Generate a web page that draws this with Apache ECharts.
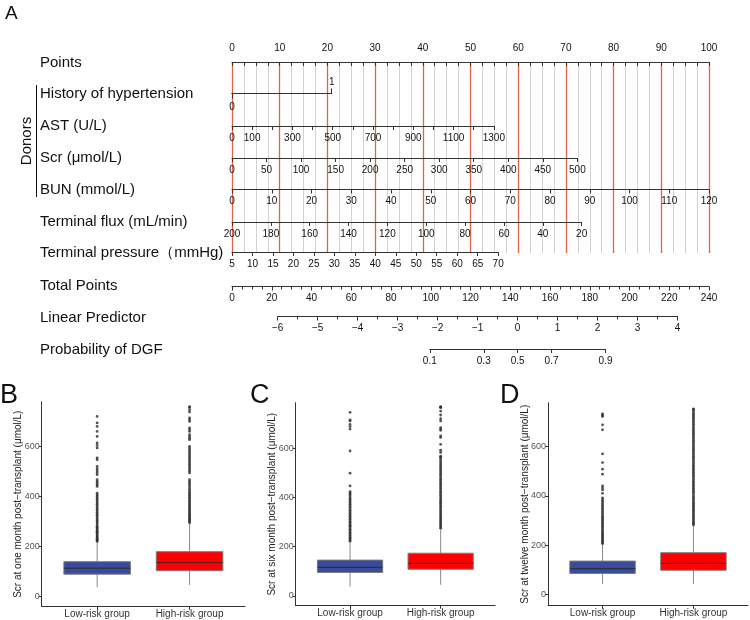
<!DOCTYPE html>
<html>
<head>
<meta charset="utf-8">
<title>DGF nomogram and Scr by risk group</title>
<script src="https://cdn.jsdelivr.net/npm/echarts@6/dist/echarts.min.js"></script>
<style>
  html, body { margin: 0; padding: 0; background: #fff; }
  #main { width: 750px; height: 620px; }
</style>
</head>
<body>
<div id="main"></div>
<script>
// ---------- panel A: nomogram ----------
const rowLabels = ['Points', 'History of hypertension', 'AST (U/L)', 'Scr (μmol/L)', 'BUN (mmol/L)',
  'Terminal flux (mL/min)', 'Terminal pressure（mmHg)', 'Total Points', 'Linear Predictor', 'Probability of DGF']
const hypertensionPoints = 20.9 // points for history = 1
const astRange = [0, 1300]
const astPoints = 54.9 // points at AST 1300
const astLabels = [0, 100, 300, 500, 700, 900, 1100, 1300]
const scrRange = [0, 500]
const scrPoints = 72.4
const bunRange = [0, 120]
const bunPoints = 100
const fluxRange = [20, 200] // drawn reversed: 200 scores 0
const fluxPoints = 73.3
const pressureRange = [5, 70]
const pressurePoints = 55.8
const totalRange = [0, 240]
const lpRange = [-6, 4]
const lpTotal = [23, 224.2] // total points at the two ends of the linear predictor
const probTicks = [0.1, 0.3, 0.5, 0.7, 0.9]

// ---------- panels B-D: Scr boxplots ----------
const groups = ['Low-risk group', 'High-risk group']
// [lower whisker, Q1, median, Q3, upper whisker]
const box1m = [[38, 90, 114, 140, 216], [47, 104, 136, 180, 292]]
const box6m = [[38, 95, 116, 145, 218], [45, 108, 132, 173, 268]]
const box12m = [[42, 85, 104, 135, 200], [42, 98, 126, 169, 278]]
const lowOut1m = [221, 225, 230, 234, 239, 243, 248, 253, 258, 262, 267, 272, 277, 281, 288, 295, 301, 307, 313, 320, 326, 332, 338, 345, 351, 357, 364, 370, 376, 383, 389, 395, 401, 407, 414, 441, 447, 454, 461, 468, 488, 496, 504, 512, 521, 548, 555, 595, 605, 615, 641, 661, 681, 695, 721]
const highOut1m = [296, 300, 305, 310, 315, 320, 325, 330, 336, 341, 347, 352, 358, 364, 370, 376, 382, 388, 394, 400, 406, 412, 418, 425, 432, 440, 447, 454, 461, 468, 495, 502, 509, 516, 523, 530, 537, 544, 551, 558, 565, 572, 579, 586, 594, 601, 628, 634, 641, 648, 661, 668, 675, 701, 708, 715, 739, 748, 757, 760]
const lowOut6m = [222, 227, 232, 237, 243, 248, 254, 259, 265, 270, 276, 282, 287, 293, 299, 305, 311, 317, 323, 329, 335, 341, 347, 353, 360, 366, 372, 379, 385, 392, 398, 405, 412, 417, 423, 446, 498, 588, 677, 687, 696, 710, 714, 745]
const highOut6m = [274, 279, 285, 290, 296, 302, 308, 314, 320, 326, 332, 338, 344, 350, 357, 363, 369, 376, 382, 388, 395, 401, 408, 414, 421, 427, 434, 440, 447, 453, 460, 467, 473, 480, 487, 494, 500, 507, 514, 521, 528, 535, 542, 549, 556, 563, 567, 582, 591, 615, 643, 649, 672, 677, 683, 710, 719, 734, 750, 764, 766, 768]
const lowOut12m = [205, 210, 215, 220, 226, 231, 237, 242, 248, 254, 259, 265, 271, 277, 283, 289, 295, 301, 307, 313, 319, 326, 332, 338, 345, 351, 358, 364, 371, 378, 385, 392, 410, 424, 432, 440, 488, 508, 535, 570, 668, 688, 722, 727, 733]
const highOut12m = [282, 287, 292, 298, 304, 310, 316, 322, 328, 334, 340, 346, 352, 358, 364, 370, 376, 383, 389, 395, 401, 408, 414, 420, 427, 433, 440, 446, 453, 459, 466, 472, 479, 485, 492, 498, 505, 511, 518, 524, 531, 537, 544, 550, 557, 563, 570, 576, 583, 589, 596, 602, 609, 615, 622, 628, 635, 641, 648, 654, 661, 667, 674, 680, 687, 693, 700, 706, 713, 719, 726, 732, 738, 745, 750, 753]
const yTitles = ['Scr at one month post−transplant (μmol/L)', 'Scr at six month post−transplant (μmol/L)', 'Scr at twelve month post−transplant (μmol/L)']
const scrTicks = [0, 200, 400, 600]

const FONT = 'Liberation Sans, Arial, sans-serif'
const LINE = '#333'
const NOMO_LEFT = 232
const NOMO_W = 477 // width of 100 points
const rowY = [62, 93.5, 126, 158, 189.5, 222, 252, 286.5, 316.5, 349]
const labelY = [63, 94, 126, 158, 190, 222, 253, 286, 318, 350]

function merge (a, b) {
  const out = Object.assign({}, a)
  Object.keys(b || {}).forEach(k => {
    const v = b[k]
    out[k] = (v && typeof v === 'object' && !Array.isArray(v) && a[k] && typeof a[k] === 'object') ? merge(a[k], v) : v
  })
  return out
}
const ptsW = p => p / 100 * NOMO_W
const logit = p => Math.log(p / (1 - p))

const grids = []
const xAxes = []
const yAxes = []
function addGrid (left, width, top, height) {
  grids.push({ left, width, top, height, containLabel: false, outerBoundsMode: 'none' })
  return grids.length - 1
}
function hiddenY (gi) {
  yAxes.push({ type: 'value', gridIndex: gi, show: false, min: 0, max: 1 })
}
const rowAxisBase = {
  type: 'value',
  position: 'bottom',
  z: 3,
  axisLine: { show: true, onZero: false, lineStyle: { color: LINE, width: 1 } },
  axisTick: { show: true, length: 4, lineStyle: { color: LINE } },
  axisLabel: { show: true, margin: 7, fontSize: 10, color: '#111', fontFamily: FONT, showMinLabel: true, showMaxLabel: true },
  splitLine: { show: false }
}
function addRow (rowIdx, pointsStart, pointsSpan, axisOpt) {
  const gi = addGrid(NOMO_LEFT + ptsW(pointsStart), ptsW(pointsSpan), rowY[rowIdx], 0)
  hiddenY(gi)
  xAxes.push(merge(rowAxisBase, merge({ gridIndex: gi }, axisOpt)))
}

// Points axis carries the vertical reference lines
const gPoints = addGrid(NOMO_LEFT, NOMO_W, rowY[0], 191)
hiddenY(gPoints)
xAxes.push(merge(rowAxisBase, {
  gridIndex: gPoints, position: 'top', z: 0, min: 0, max: 100, interval: 10,
  axisTick: { inside: true },
  axisLabel: { margin: 9 },
  minorTick: { show: true, splitNumber: 4, length: 4, lineStyle: { color: LINE } },
  splitLine: { show: true, lineStyle: { color: '#dc6448', width: 1.3 } },
  minorSplitLine: { show: true, lineStyle: { color: '#d2d2d2', width: 1 } }
}))

// history of hypertension: 1 above, 0 below
const gHyp = addGrid(NOMO_LEFT, ptsW(hypertensionPoints), rowY[1], 0)
hiddenY(gHyp)
xAxes.push(merge(rowAxisBase, {
  gridIndex: gHyp, position: 'top', min: 0, max: 1,
  axisTick: { customValues: [1], length: 5 },
  axisLabel: { customValues: [1], margin: 6 }
}))
xAxes.push(merge(rowAxisBase, {
  gridIndex: gHyp, position: 'bottom', min: 0, max: 1,
  axisTick: { customValues: [0], length: 5 },
  axisLabel: { customValues: [0], margin: 9 }
}))

addRow(2, 0, astPoints, {
  min: astRange[0], max: astRange[1], interval: 100,
  axisLabel: { formatter: v => astLabels.indexOf(v) >= 0 ? String(v) : '' }
})
addRow(3, 0, scrPoints, { min: scrRange[0], max: scrRange[1], interval: 50 })
addRow(4, 0, bunPoints, { min: bunRange[0], max: bunRange[1], interval: 10 })
addRow(5, 0, fluxPoints, { min: fluxRange[0], max: fluxRange[1], interval: 20, inverse: true })
addRow(6, 0, pressurePoints, { min: pressureRange[0], max: pressureRange[1], interval: 5 })
addRow(7, 0, 100, {
  min: totalRange[0], max: totalRange[1], interval: 20,
  minorTick: { show: true, splitNumber: 4, length: 3, lineStyle: { color: LINE } }
})
const tpToPts = t => t / totalRange[1] * 100
addRow(8, tpToPts(lpTotal[0]), tpToPts(lpTotal[1] - lpTotal[0]), {
  min: lpRange[0], max: lpRange[1], interval: 1,
  minorTick: { show: true, splitNumber: 2, length: 3, lineStyle: { color: LINE } },
  axisLabel: { formatter: v => v < 0 ? '−' + Math.abs(v) : String(v) }
})
// probability axis sits on the linear predictor scale
const lpPtsPerUnit = tpToPts(lpTotal[1] - lpTotal[0]) / (lpRange[1] - lpRange[0])
const lpToPts = v => tpToPts(lpTotal[0]) + (v - lpRange[0]) * lpPtsPerUnit
const probLp = probTicks.map(logit)
addRow(9, lpToPts(probLp[0]), lpToPts(probLp[probLp.length - 1]) - lpToPts(probLp[0]), {
  min: probLp[0], max: probLp[probLp.length - 1],
  axisTick: { customValues: probLp },
  axisLabel: { customValues: probLp, formatter: v => (1 / (1 + Math.exp(-v))).toFixed(1) }
})

// ---------- boxplot panels ----------
const panels = [
  { left: 41.7, top: 401.7, width: 203.3, height: 205, min: -40, max: 780, box: box1m, out: [lowOut1m, highOut1m] },
  { left: 295.7, top: 402.7, width: 199.3, height: 203, min: -40, max: 784, box: box6m, out: [lowOut6m, highOut6m] },
  { left: 548, top: 402.7, width: 200, height: 203, min: -46, max: 778, box: box12m, out: [lowOut12m, highOut12m] }
]
const boxColors = ['#3a4b9c', '#ff0000']
const BOX_W = 0.72
const series = []

function renderBox (params, api) {
  const x = api.value(0)
  const lo = api.value(1)
  const q1 = api.value(2)
  const med = api.value(3)
  const q3 = api.value(4)
  const hi = api.value(5)
  const tl = api.coord([x - BOX_W / 2, q3])
  const br = api.coord([x + BOX_W / 2, q1])
  const mL = api.coord([x - BOX_W / 2, med])
  const mR = api.coord([x + BOX_W / 2, med])
  const pHi = api.coord([x, hi])
  const pQ3 = api.coord([x, q3])
  const pQ1 = api.coord([x, q1])
  const pLo = api.coord([x, lo])
  const whisk = { stroke: '#8a8a8a', lineWidth: 1 }
  return {
    type: 'group',
    children: [
      { type: 'line', shape: { x1: pHi[0], y1: pHi[1], x2: pQ3[0], y2: pQ3[1] }, style: whisk },
      { type: 'line', shape: { x1: pQ1[0], y1: pQ1[1], x2: pLo[0], y2: pLo[1] }, style: whisk },
      { type: 'rect', shape: { x: tl[0], y: tl[1], width: br[0] - tl[0], height: br[1] - tl[1] }, style: { fill: boxColors[params.dataIndex], stroke: '#7a7a7a', lineWidth: 1 } },
      { type: 'line', shape: { x1: mL[0], y1: mL[1], x2: mR[0], y2: mR[1] }, style: { stroke: '#2a2a2a', lineWidth: 1 } }
    ]
  }
}

panels.forEach((p, k) => {
  const gi = addGrid(p.left, p.width, p.top, p.height)
  const xi = xAxes.length
  const yi = yAxes.length
  xAxes.push({
    type: 'value', gridIndex: gi, min: 0.4, max: 2.6, position: 'bottom',
    axisLine: { show: true, onZero: false, lineStyle: { color: LINE } },
    axisTick: { show: true, customValues: [1, 2], length: 3, lineStyle: { color: LINE } },
    axisLabel: { customValues: [1, 2], formatter: v => groups[Math.round(v) - 1], margin: 3, fontSize: 10, color: '#333', fontFamily: FONT },
    splitLine: { show: false }
  })
  yAxes.push({
    type: 'value', gridIndex: gi, min: p.min, max: p.max, position: 'left',
    axisLine: { show: true, onZero: false, lineStyle: { color: LINE } },
    axisTick: { show: true, customValues: scrTicks, length: 3, lineStyle: { color: LINE } },
    axisLabel: { customValues: scrTicks, margin: 2, fontSize: 9, color: '#555', fontFamily: FONT },
    splitLine: { show: false },
    name: yTitles[k],
    nameLocation: 'middle',
    nameGap: 18,
    nameMoveOverlap: false,
    nameTextStyle: { fontSize: 10, color: '#222', fontFamily: FONT }
  })
  series.push({
    type: 'custom',
    xAxisIndex: xi,
    yAxisIndex: yi,
    renderItem: renderBox,
    encode: { x: 0, y: [1, 2, 3, 4, 5] },
    data: p.box.map((s, i) => [i + 1].concat(s)),
    silent: true
  })
  series.push({
    type: 'scatter',
    xAxisIndex: xi,
    yAxisIndex: yi,
    symbol: 'circle',
    symbolSize: 2.8,
    itemStyle: { color: '#2a2a2a' },
    data: p.out[0].map(v => [1, v]).concat(p.out[1].map(v => [2, v])),
    silent: true
  })
})

// ---------- text, bracket and panel letters ----------
const graphic = []
rowLabels.forEach((t, i) => {
  graphic.push({
    type: 'text', x: 40, y: labelY[i],
    style: { text: t, font: '15px ' + FONT, fill: '#111', align: 'left', verticalAlign: 'middle' }
  })
})
graphic.push({ type: 'line', shape: { x1: 36.5, y1: 85, x2: 36.5, y2: 197 }, style: { stroke: '#111', lineWidth: 1 } })
graphic.push({
  type: 'text', x: 27, y: 141, rotation: Math.PI / 2,
  style: { text: 'Donors', font: '15px ' + FONT, fill: '#111', align: 'center', verticalAlign: 'middle' }
})
graphic.push({ type: 'text', x: 5, y: 14, style: { text: 'A', font: '19px ' + FONT, fill: '#111', verticalAlign: 'middle' } })
;[['B', 0], ['C', 250], ['D', 500]].forEach(([t, x]) => {
  graphic.push({ type: 'text', x: x, y: 396, style: { text: t, font: '27px ' + FONT, fill: '#111', verticalAlign: 'middle' } })
})

const myChart = echarts.init(document.getElementById('main'), null, { renderer: 'canvas' })
myChart.setOption({
  animation: false,
  backgroundColor: '#fff',
  grid: grids,
  xAxis: xAxes,
  yAxis: yAxes,
  series: series,
  graphic: graphic
})
</script>
</body>
</html>
